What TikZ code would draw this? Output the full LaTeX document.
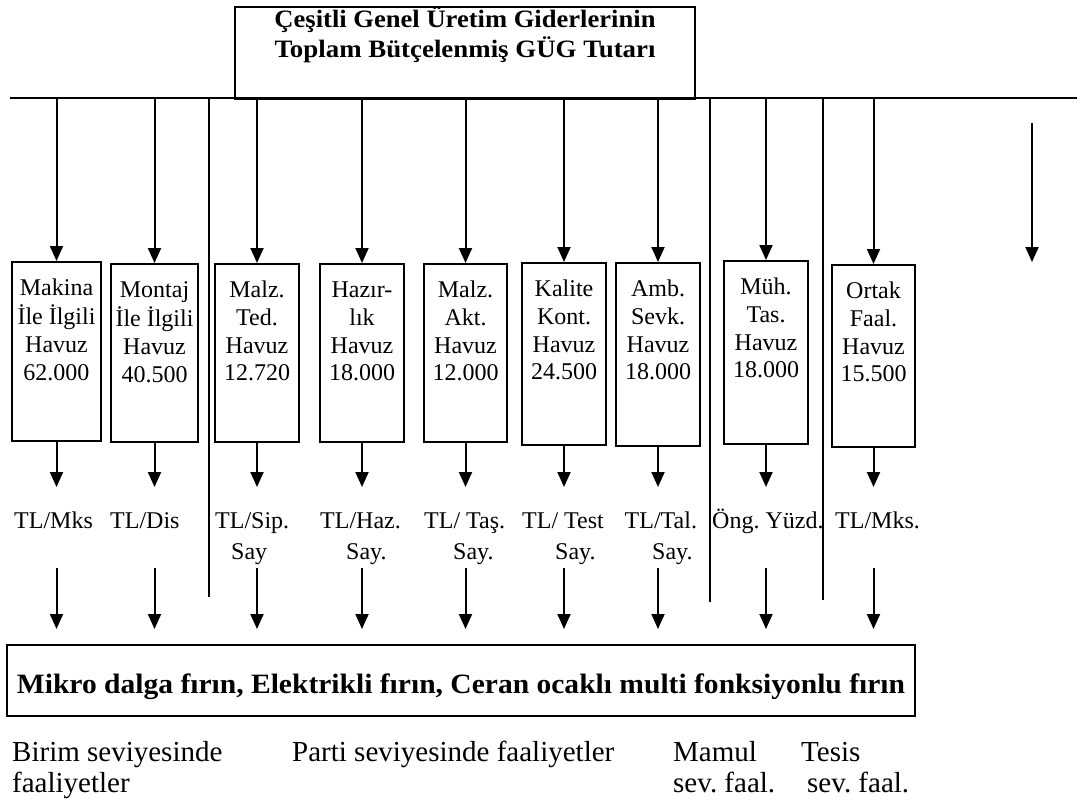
\documentclass[tikz,border=0pt]{standalone}
\usepackage{fontspec}
\usepackage{graphicx}
\setmainfont{Liberation Serif}
\usetikzlibrary{arrows.meta}
\frenchspacing
\newcommand\pooltxt[3]{\parbox[c][#1][t]{#2}{\centering\vspace*{14.5pt}\strut #3}}
\begin{document}
\begin{tikzpicture}[x=1pt,y=-1pt,
  conn/.style={line width=2pt},
  arr/.style={line width=2pt,-{Triangle[width=13pt,length=15pt]}},
  pool/.style={draw,line width=2pt,inner sep=0pt,anchor=north,font=\fontsize{24}{27.6}\selectfont},
  lab/.style={inner sep=0pt,anchor=north west,align=left,font=\fontsize{24}{31}\selectfont},
  foot/.style={inner sep=0pt,anchor=north west,align=left,font=\fontsize{29}{31.5}\selectfont}]
\useasboundingbox (0,0) rectangle (1083,802);

% top box and bus
\coordinate (busL) at (10,98);
\coordinate (busR) at (1077,98);
\node[draw,line width=2.2pt,inner sep=0pt,anchor=north,font=\fontsize{25}{26}\selectfont\bfseries] (head) at (465,6)
  {\parbox[c][92pt][t]{460pt}{\centering\strut\resizebox{381pt}{\height}{Çeşitli Genel Üretim Giderlerinin}\\\resizebox{381pt}{\height}{Toplam Bütçelenmiş GÜG Tutarı}}};
\draw[line width=2.5pt] (busL) -- (busR);

% pools
\node[pool] (b1) at (56.5,261) {\pooltxt{179pt}{89pt}{Makina\\İle İlgili\\Havuz\\62.000}};
\node[pool] (b2) at (154.5,263) {\pooltxt{178pt}{87pt}{Montaj\\İle İlgili\\Havuz\\40.500}};
\node[pool] (b3) at (257,263) {\pooltxt{178pt}{84pt}{Malz.\\Ted.\\Havuz\\12.720}};
\node[pool] (b4) at (362,263) {\pooltxt{178pt}{84pt}{Hazır-\\lık\\Havuz\\18.000}};
\node[pool] (b5) at (465.5,263) {\pooltxt{178pt}{83pt}{Malz.\\Akt.\\Havuz\\12.000}};
\node[pool] (b6) at (564,262) {\pooltxt{182pt}{84pt}{Kalite\\Kont.\\Havuz\\24.500}};
\node[pool] (b7) at (658,262) {\pooltxt{183pt}{84pt}{Amb.\\Sevk.\\Havuz\\18.000}};
\node[pool] (b8) at (766,260) {\pooltxt{183pt}{84pt}{Müh.\\Tas.\\Havuz\\18.000}};
\node[pool] (b9) at (873.5,264) {\pooltxt{182pt}{83pt}{Ortak\\Faal.\\Havuz\\15.500}};

% cost driver labels
\node[lab] (l1) at (14,507) {\strut TL/Mks};
\node[lab] (l2) at (110,507) {\strut TL/Dis};
\node[lab] (l3) at (215,507) {\strut TL/Sip.\\\hspace*{16pt}Say};
\node[lab] (l4) at (320,507) {\strut TL/Haz.\\\hspace*{26pt}Say.};
\node[lab] (l5) at (424,507) {\strut TL/ Taş.\\\hspace*{29pt}Say.};
\node[lab] (l6) at (522,507) {\strut TL/ Test\\\hspace*{33pt}Say.};
\node[lab] (l7) at (624.5,507) {\strut TL/Tal.\\\hspace*{27.5pt}Say.};
\node[lab] (l8) at (712,507) {\strut Öng. Yüzd.};
\node[lab] (l9) at (835,507) {\strut TL/Mks.};

% product box
\node[draw,line width=2.2pt,inner sep=0pt,minimum width=908pt,minimum height=71pt,text height=30pt,text depth=5pt,
  font=\fontsize{28}{32}\selectfont\bfseries] (prod) at (461,680.5)
  {\resizebox{888pt}{\height}{Mikro dalga fırın, Elektrikli fırın, Ceran ocaklı multi fonksiyonlu fırın}};

% footer labels
\node[foot] (f1) at (12,739) {\strut Birim seviyesinde\\faaliyetler};
\node[foot] (f2) at (292,739) {\strut Parti seviyesinde faaliyetler};
\node[foot] (f3) at (673,739) {\strut Mamul\\sev. faal.};
\node[foot] (f4) at (801,739) {\strut Tesis\\\hspace*{6pt}sev. faal.};

% connectors
\coordinate (midtip) at (0,487);
\coordinate (lowstart) at (0,568);
\coordinate (lowtip) at (0,629);
\foreach \i in {1,...,9}{
  \draw[arr] (b\i.north |- busL) -- (b\i.north);
  \draw[arr] (b\i.south) -- (b\i.south |- midtip);
  \draw[arr] (b\i.south |- lowstart) -- (b\i.south |- lowtip);
}

% separators
\coordinate (s1) at (208.6,597);
\coordinate (s2) at (709.5,602);
\coordinate (s3) at (823,600);
\draw[conn] (s1 |- busL) -- (s1);
\draw[conn] (s2 |- busL) -- (s2);
\draw[conn] (s3 |- busL) -- (s3);

% free arrow
\coordinate (fa) at (1032,123);
\coordinate (fb) at (1032,262);
\draw[arr] (fa) -- (fb);
\end{tikzpicture}
\end{document}
